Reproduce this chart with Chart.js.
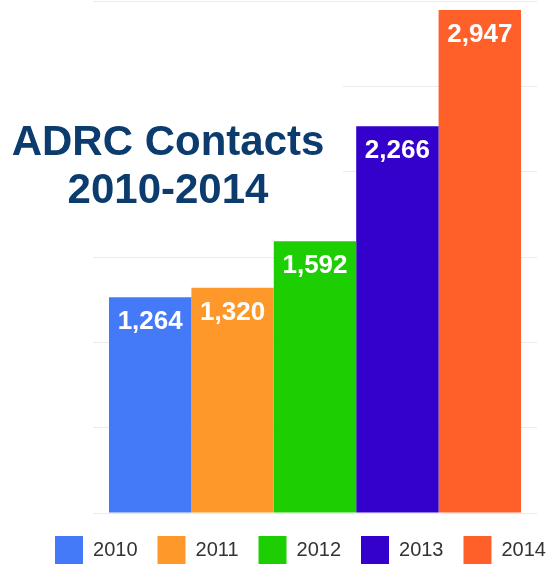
<!DOCTYPE html>
<html>
<head>
<meta charset="utf-8">
<script src="https://cdn.jsdelivr.net/npm/chart.js@4"></script>
<style>
  html, body { margin: 0; padding: 0; background: #fff; }
  #wrap { width: 553px; height: 568px; position: relative; }
</style>
</head>
<body>
<div id="wrap"><canvas id="chart" width="553" height="568"></canvas></div>
<script>
// ADRC contact counts per year
const years = ['2010', '2011', '2012', '2013', '2014'];
const contacts = [1264, 1320, 1592, 2266, 2947];
const barColors = ['#4479f7', '#fe982b', '#1dcf02', '#3300cc', '#ff5f29'];
const titleLines = ['ADRC Contacts', '2010-2014'];
const yTicks = { min: 0, max: 3000, step: 500 };

const datasets = years.map((y, i) => ({
  label: y,
  data: [contacts[i]],
  backgroundColor: barColors[i],
  borderWidth: 0,
  categoryPercentage: 0.928,
  barPercentage: 1.0
}));

// White panel with the headline, laid over the upper-left gridlines
const headline = {
  id: 'headline',
  beforeDatasetsDraw(chart) {
    const ctx = chart.ctx;
    ctx.save();
    ctx.fillStyle = '#ffffff';
    ctx.fillRect(0, 20, 343, 218);
    ctx.restore();
  },
  afterDatasetsDraw(chart) {
    const ctx = chart.ctx;
    ctx.save();
    ctx.fillStyle = '#0c3b6e';
    ctx.font = 'bold 42px "Liberation Sans", Arial, sans-serif';
    ctx.textAlign = 'center';
    ctx.textBaseline = 'alphabetic';
    ctx.fillText(titleLines[0], 168, 155);
    ctx.fillText(titleLines[1], 168, 203);
    ctx.restore();
  }
};

// Value labels inside the top of each bar
const valueLabels = {
  id: 'valueLabels',
  afterDatasetsDraw(chart) {
    const ctx = chart.ctx;
    ctx.save();
    ctx.fillStyle = '#ffffff';
    ctx.font = 'bold 26px "Liberation Sans", Arial, sans-serif';
    ctx.textAlign = 'center';
    ctx.textBaseline = 'alphabetic';
    chart.data.datasets.forEach((ds, i) => {
      const bar = chart.getDatasetMeta(i).data[0];
      ctx.fillText(ds.data[0].toLocaleString('en-US'), bar.x, bar.y + 32);
    });
    ctx.restore();
  }
};

// Moves the legend row a little to the right and down
const legendOffset = {
  id: 'legendOffset',
  afterLayout(chart) {
    const lg = chart.legend;
    if (lg) { lg.left += 32; lg.right += 32; lg.top += 3; lg.bottom += 3; }
  }
};

new Chart(document.getElementById('chart'), {
  type: 'bar',
  data: { labels: [''], datasets },
  options: {
    responsive: false,
    animation: false,
    layout: { padding: { left: 0, right: 16, top: 1, bottom: -3 } },
    scales: {
      x: { display: false },
      y: {
        min: yTicks.min,
        max: yTicks.max,
        ticks: { display: false, stepSize: yTicks.step },
        border: { display: false },
        grid: { color: '#ebebeb', drawTicks: false },
        afterFit(scale) { scale.width = 93; }
      }
    },
    plugins: {
      legend: {
        position: 'bottom',
        labels: {
          boxWidth: 28,
          boxHeight: 28,
          padding: 20,
          color: '#333333',
          font: { family: '"Liberation Sans", Arial, sans-serif', size: 20 }
        }
      },
      tooltip: { enabled: false },
      title: { display: false }
    }
  },
  plugins: [headline, valueLabels, legendOffset]
});
</script>
</body>
</html>
